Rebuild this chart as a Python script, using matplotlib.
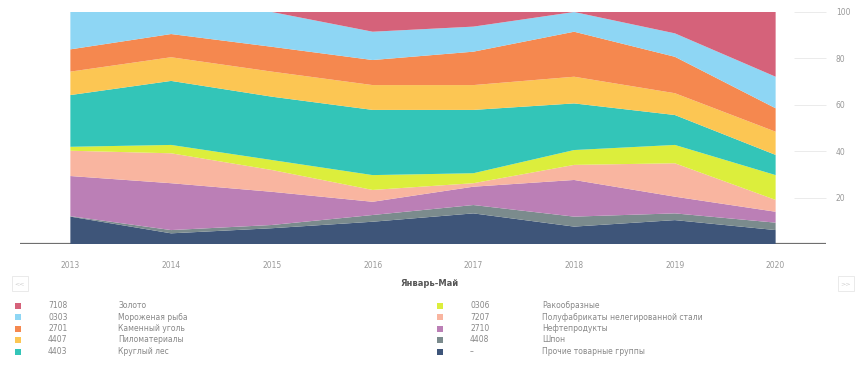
import numpy as np
import matplotlib.pyplot as plt
from matplotlib.patches import FancyBboxPatch

years = [2013, 2014, 2015, 2016, 2017, 2018, 2019, 2020]

# shares in %, stacked from the bottom up
codes = ['–', '4408', '2710', '7207', '0306', '4403', '4407', '2701', '0303', '7108']
names = ['Прочие товарные группы', 'Шпон', 'Нефтепродукты',
         'Полуфабрикаты нелегированной стали', 'Ракообразные', 'Круглый лес',
         'Пиломатериалы', 'Каменный уголь', 'Мороженая рыба', 'Золото']
prochie = [11.8, 4.6, 6.8, 9.6, 13.2, 7.5, 10.3, 6.0]
shpon = [0.2, 1.4, 1.4, 2.9, 3.6, 4.3, 2.9, 3.2]
neft = [17.3, 20.2, 14.3, 5.7, 7.9, 15.8, 7.2, 4.7]
polufab = [10.9, 12.9, 9.4, 5.1, 1.5, 6.5, 14.4, 5.1]
rako = [1.7, 3.6, 4.3, 6.4, 4.3, 6.4, 7.9, 10.7]
les = [22.3, 27.6, 27.3, 28.1, 27.3, 20.1, 12.9, 8.7]
pilo = [10.1, 10.2, 10.8, 10.7, 10.7, 11.5, 9.4, 10.0]
ugol = [9.6, 10.0, 10.7, 10.8, 14.4, 19.4, 15.7, 10.1]
ryba = [16.1, 9.5, 15.0, 12.2, 10.8, 8.5, 10.1, 13.6]
zoloto = [0.0, 0.0, 0.0, 8.5, 6.3, 0.0, 9.2, 27.9]
series = [prochie, shpon, neft, polufab, rako, les, pilo, ugol, ryba, zoloto]
colors = ['#3e5579', '#7b8b8d', '#bb7fb6', '#f9b5a0', '#dcee3c', '#33c5b8',
          '#fcc653', '#f5884f', '#8ed6f4', '#d5627a']

fig = plt.figure(figsize=(8.63, 3.65), dpi=100)
ax = fig.add_axes([20 / 863, 121 / 365, 806 / 863, 232 / 365])

ax.stackplot(years, *series, colors=colors, linewidth=0, zorder=2)
ax.axhline(0, color='#6f6f6f', lw=1.6, zorder=1)

ax.set_xlim(2012.5, 2020.5)
ax.set_ylim(0, 100)
for s in ax.spines.values():
    s.set_visible(False)
ax.set_xticks(years)
ax.tick_params(axis='x', length=0, pad=12, labelsize=5.5, labelcolor='#999999')
ax.yaxis.tick_right()
ax.set_yticks([20, 40, 60, 80, 100])
ax.tick_params(axis='y', direction='in', length=23, width=0.6, color='#e8e8e8',
               pad=7, labelsize=5.5, labelcolor='#999999')

fig.text(430 / 863, 1 - 283 / 365, 'Январь-Май', ha='center', va='center',
         fontsize=6, fontweight='bold', color='#555555')

# navigation buttons
for bx, lab in [(12, '<<'), (838, '>>')]:
    fig.patches.append(FancyBboxPatch((bx / 863, 1 - 291 / 365), 16 / 863, 15 / 365,
                                      boxstyle='square,pad=0', transform=fig.transFigure,
                                      facecolor='white', edgecolor='#e6e6e6', lw=0.6))
    fig.text((bx + 8) / 863, 1 - 283.5 / 365, lab, ha='center', va='center',
             fontsize=4.5, color='#cccccc')

# legend, two columns, top item first
order = list(range(len(series)))[::-1]
rows_y = [305.5, 317, 328.5, 340, 351.5]
for k, i in enumerate(order):
    col, row = divmod(k, 5)
    sx, cx, nx = [(15, 48, 118), (437, 470, 542)][col]
    y = 1 - rows_y[row] / 365
    fig.patches.append(FancyBboxPatch((sx / 863, y - 3 / 365), 6 / 863, 6 / 365,
                                      boxstyle='square,pad=0', transform=fig.transFigure,
                                      facecolor=colors[i], edgecolor='none'))
    fig.text(cx / 863, y, codes[i], ha='left', va='center', fontsize=5.5, color='#888888')
    fig.text(nx / 863, y, names[i], ha='left', va='center', fontsize=5.5, color='#888888')

fig.savefig('out.png', dpi=100)
